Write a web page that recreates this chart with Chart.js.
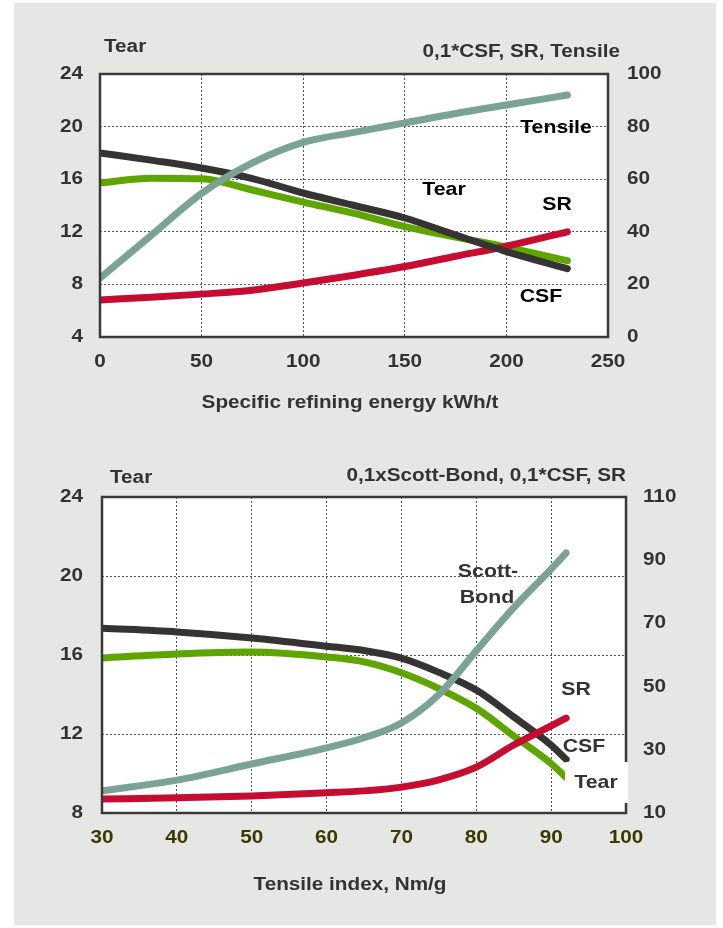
<!DOCTYPE html>
<html>
<head>
<meta charset="utf-8">
<script src="https://cdn.jsdelivr.net/npm/chart.js@4.4.0/dist/chart.umd.min.js"></script>
<style>
  html, body { margin:0; padding:0; background:#fff; }
  #bg { position:absolute; left:14px; top:3px; width:702px; height:922px; background:#e6e6e4; }
  canvas { position:absolute; left:0; }
  #c1 { top:0; }
  #c2 { top:440px; }
</style>
</head>
<body>
<div id="bg"></div>
<canvas id="c1" width="723" height="440"></canvas>
<canvas id="c2" width="723" height="488"></canvas>
<script>
// Chart 1: specific refining energy
const energy   = [0, 25, 50, 75, 100, 125, 150, 175, 200, 230];
const tear1    = [18.0, 17.45, 16.85, 16.05, 14.95, 14.0, 13.05, 11.75, 10.5, 9.2];
const csf1     = [58.6, 60.4, 60.2, 55.9, 51.3, 47.0, 42.0, 38.0, 34.2, 29.0];
const sr1      = [14.1, 15.1, 16.3, 17.8, 20.5, 23.5, 26.8, 30.7, 34.5, 40.0];
const tensile1 = [22.4, 38.5, 54.6, 66.2, 74.0, 77.8, 81.4, 85.0, 88.2, 92.0];

// Chart 2: tensile index
const tensileIdx = [30, 40, 50, 60, 65, 70, 75, 80, 85, 90, 92];
const csf2   = [68.5, 67.3, 65.4, 62.8, 61.4, 59.0, 54.5, 48.9, 40.4, 31.5, 27.0];
const tear2  = [15.85, 16.05, 16.15, 15.9, 15.65, 15.1, 14.3, 13.3, 11.9, 10.5, 9.8];
const sr2    = [14.4, 14.8, 15.4, 16.4, 17.0, 18.2, 20.5, 24.5, 31.5, 37.6, 40.0];
const scott2 = [17.0, 20.4, 25.5, 30.6, 33.8, 38.5, 47.5, 61.3, 75.0, 87.2, 92.3];

const COL = { black:'#353432', green:'#5ea500', red:'#c60c30', gray:'#7aa396' };
const FONT = '"Liberation Sans", Arial, sans-serif';
const SX = 1.15; // texte un peu élargi comme l'original

const pts = (xs, ys) => xs.map((x, i) => ({ x, y: ys[i] }));
const line = (data, color, axis) => ({
  data, borderColor: color, borderWidth: 7, pointRadius: 0, fill: false,
  cubicInterpolationMode: 'monotone', borderCapStyle: 'round', yAxisID: axis
});

function txt(ctx, text, x, y, align, size, color){
  ctx.save();
  ctx.translate(x, y); ctx.scale(SX, 1);
  ctx.font = `bold ${size}px ${FONT}`;
  ctx.textAlign = align; ctx.textBaseline = 'middle';
  ctx.fillStyle = color;
  ctx.fillText(text, 0, 0);
  ctx.restore();
}

// fond blanc, cadre, graduations, textes
function framePlugin(cfg){
  return {
    id: 'frame',
    beforeDraw(chart){
      const { ctx, chartArea: a } = chart;
      ctx.save(); ctx.fillStyle = '#fff';
      ctx.fillRect(a.left, a.top, a.right - a.left, a.bottom - a.top);
      ctx.restore();
    },
    afterDatasetsDraw(chart){
      const { ctx, chartArea: a } = chart;
      ctx.save(); ctx.strokeStyle = '#3a3a3a'; ctx.lineWidth = 2.5;
      ctx.strokeRect(a.left, a.top, a.right - a.left, a.bottom - a.top);
      ctx.restore();
    },
    afterDraw(chart){
      const ctx = chart.ctx, s = chart.scales, a = chart.chartArea;
      s.x.ticks.forEach(t => txt(ctx, t.label, s.x.getPixelForValue(t.value), a.bottom + 25, 'center', 18, cfg.xColor));
      s.yL.ticks.forEach(t => txt(ctx, t.label, a.left - cfg.padL, s.yL.getPixelForValue(t.value), 'right', 18, '#333'));
      s.yR.ticks.forEach(t => txt(ctx, t.label, a.right + cfg.padR, s.yR.getPixelForValue(t.value), 'left', 18, '#333'));
      cfg.texts.forEach(t => {
        if (t.box) {
          ctx.save(); ctx.fillStyle = '#fff';
          ctx.fillRect(t.box[0], t.box[1], t.box[2], t.box[3]);
          ctx.restore();
        }
        txt(ctx, t.text, t.x, t.y, t.align || 'center', t.size || 18, t.color || '#333');
      });
    }
  };
}

function makeChart(id, cfg){
  const grid = { color:'#555', lineWidth:1, drawTicks:false };
  return new Chart(document.getElementById(id), {
    type: 'line',
    data: { datasets: cfg.datasets },
    options: {
      responsive: false, animation: false,
      layout: { padding: { left:10, right:10, top: cfg.top, bottom:10 } },
      plugins: { legend:{ display:false }, tooltip:{ enabled:false } },
      scales: {
        x: { type:'linear', min: cfg.x[0], max: cfg.x[1],
             ticks:{ stepSize: cfg.x[2], display:false },
             grid, border:{ display:false, dash:[2,2] },
             afterFit: s => { s.height = cfg.xH; } },
        yL: { position:'left', min: cfg.yL[0], max: cfg.yL[1],
              ticks:{ stepSize: cfg.yL[2], display:false },
              grid, border:{ display:false, dash:[2,2] },
              afterFit: s => { s.width = cfg.wL; } },
        yR: { position:'right', min: cfg.yR[0], max: cfg.yR[1],
              ticks:{ stepSize: cfg.yR[2], display:false },
              grid:{ display:false, drawTicks:false }, border:{ display:false },
              afterFit: s => { s.width = cfg.wR; } }
      }
    },
    plugins: [framePlugin(cfg)]
  });
}

makeChart('c1', {
  top: 74, xH: 93, wL: 90, wR: 105, padL: 17, padR: 19,
  x: [0, 250, 50], yL: [4, 24, 4], yR: [0, 100, 20], xColor:'#333',
  datasets: [
    line(pts(energy, tensile1), COL.gray, 'yR'),
    line(pts(energy, tear1), COL.black, 'yL'),
    line(pts(energy, sr1), COL.red, 'yR'),
    line(pts(energy, csf1), COL.green, 'yR')
  ],
  texts: [
    { text:'Tear', x:104, y:47, align:'left' },
    { text:'0,1*CSF, SR, Tensile', x:620, y:52, align:'right' },
    { text:'Specific refining energy kWh/t', x:350, y:403 },
    { text:'Tensile', x:556, y:128, size:18.5, color:'#000' },
    { text:'Tear', x:444, y:190, size:18.5, color:'#000' },
    { text:'SR', x:557, y:205, size:18.5, color:'#000' },
    { text:'CSF', x:541, y:297, size:18.5, color:'#000' }
  ]
});

makeChart('c2', {
  top: 57, xH: 105, wL: 92, wR: 87, padL: 19, padR: 17,
  x: [30, 100, 10], yL: [8, 24, 4], yR: [10, 110, 20], xColor:'#3a3a00',
  datasets: [
    line(pts(tensileIdx, scott2), COL.gray, 'yR'),
    line(pts(tensileIdx, sr2), COL.red, 'yR'),
    line(pts(tensileIdx, csf2), COL.black, 'yR'),
    line(pts(tensileIdx, tear2), COL.green, 'yL')
  ],
  texts: [
    { text:'Tear', x:110, y:38, align:'left' },
    { text:'0,1xScott-Bond, 0,1*CSF, SR', x:626, y:36, align:'right' },
    { text:'Tensile index, Nm/g', x:350, y:445 },
    { text:'Scott-', x:488, y:132, size:18.5 },
    { text:'Bond', x:487, y:158, size:18.5 },
    { text:'SR', x:576, y:250, size:18.5 },
    { text:'CSF', x:584, y:307, size:18.5 },
    { text:'Tear', x:596, y:343, size:18.5, box:[565, 322, 63, 41] }
  ]
});
</script>
</body>
</html>
